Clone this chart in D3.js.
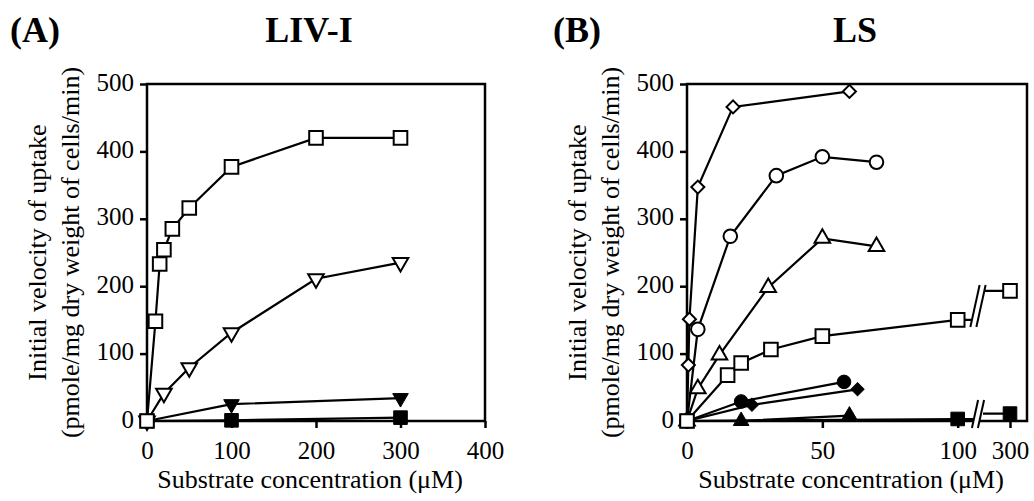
<!DOCTYPE html>
<html>
<head>
<meta charset="utf-8">
<title>Initial velocity of uptake: LIV-I and LS</title>
<script src="https://d3js.org/d3.v7.min.js"></script>
<style>
body { margin: 0; background: #fff; font-family: "Liberation Serif", "Times New Roman", serif; }
.axis line { stroke: #000; stroke-width: 2.5px; }
.axis text { font-family: "Liberation Serif", serif; font-size: 25px; fill: #000; }
.title { font-family: "Liberation Serif", serif; font-size: 36px; font-weight: bold; }
.label { font-family: "Liberation Serif", serif; font-size: 26px; }
.xlabel { font-family: "Liberation Serif", serif; font-size: 26px; }
</style>
</head>
<body>
<div id="chart"></div>
<script>
// ---- panel A : LIV-I ----
const livOpenSquareX = [0, 10, 15, 20, 30, 50, 100, 200, 300];
const livOpenSquareY = [0, 148, 233, 254, 285, 316, 377, 420, 420];
const livOpenTriDownX = [0, 20, 50, 100, 200, 300];
const livOpenTriDownY = [0, 41, 79, 131, 211, 235];
const livFilledTriDownX = [0, 100, 300];
const livFilledTriDownY = [0, 25, 34];
const livFilledSquareX = [0, 100, 300];
const livFilledSquareY = [0, 1, 5];
const livXTicks = [0, 100, 200, 300, 400];

// ---- panel B : LS ----
const lsOpenDiamondX = [0, 0.5, 0.9, 4, 17, 60];
const lsOpenDiamondY = [0, 83, 151, 347, 466, 489];
const lsOpenCircleX = [0, 4, 16, 33, 50, 70];
const lsOpenCircleY = [0, 136, 274, 364, 392, 384];
const lsOpenTriUpX = [0, 4, 12, 30, 50, 70];
const lsOpenTriUpY = [0, 48, 98, 198, 271, 259];
const lsOpenSquareX = [0, 15, 20, 31, 50, 100, 300];
const lsOpenSquareY = [0, 68, 86, 106, 126, 150, 193];
const lsFilledCircleX = [0, 20, 58];
const lsFilledCircleY = [0, 29, 58];
const lsFilledDiamondX = [0, 24, 63];
const lsFilledDiamondY = [0, 24, 47];
const lsFilledTriUpX = [0, 20, 60];
const lsFilledTriUpY = [0, 0, 8];
const lsFilledSquareX = [0, 100, 300];
const lsFilledSquareY = [0, 3, 11];
const lsXTicks = [0, 50, 100, 300];

const yTicks = [0, 100, 200, 300, 400, 500];

const plotTop = 84, plotBottom = 421;

const svg = d3.select("#chart").append("svg")
  .attr("width", 1034)
  .attr("height", 501);

const y = d3.scaleLinear().domain([0, 500]).range([plotBottom, plotTop]);

// marker shapes
const sq = d3.symbol().type(d3.symbolSquare).size(185);
const triUp = d3.symbol().type(d3.symbolTriangle).size(105);
const circ = d3.symbol().type(d3.symbolCircle).size(145);
const diam = d3.symbol().type(d3.symbolSquare).size(85);

function pts(xs, ys) {
  return xs.map((v, i) => ({x: v, y: ys[i]}));
}

// pixel points; a segment that crosses the axis break is cut in two
function pathPoints(data, x, brk) {
  const out = [];
  data.forEach((d, i) => {
    const p = [x(d.x), y(d.y)];
    if (brk && i > 0) {
      const prev = data[i - 1];
      const px = x(prev.x);
      if (px < brk.at && p[0] > brk.at) {
        out.push([brk.at - 3, y(prev.y)]);
        out.push(null);
        out.push([brk.at + 5, p[1]]);
      }
    }
    out.push(p);
  });
  return out;
}

const line = d3.line().defined(d => d !== null);

function drawPanel(opt) {
  const g = svg.append("g");
  const x = opt.x;

  g.append("rect")
    .attr("x", opt.left).attr("y", plotTop)
    .attr("width", opt.right - opt.left)
    .attr("height", plotBottom - plotTop)
    .attr("fill", "none").attr("stroke", "#000").attr("stroke-width", 2.5);

  g.append("g").attr("class", "axis")
    .attr("transform", `translate(${opt.left},0)`)
    .call(d3.axisLeft(y).tickValues(yTicks).tickSize(7).tickSizeOuter(0).tickPadding(6))
    .call(a => a.select(".domain").remove())
    .selectAll("text").attr("y", -2);

  g.append("g").attr("class", "axis")
    .attr("transform", `translate(0,${plotBottom})`)
    .call(d3.axisBottom(x).tickValues(opt.xTicks).tickSize(7).tickSizeOuter(0).tickPadding(13))
    .call(a => a.select(".domain").remove());

  // lines
  opt.series.forEach(s => {
    g.append("path")
      .attr("d", line(pathPoints(s.data, x, opt.brk)))
      .attr("fill", "none").attr("stroke", "#000").attr("stroke-width", 2.2);
  });

  // markers
  opt.series.forEach(s => {
    g.selectAll(null)
      .data(s.data)
      .enter()
      .append("path")
      .attr("d", s.sym)
      .attr("transform", d => `translate(${x(d.x)},${y(d.y)}) rotate(${s.rot || 0})`)
      .attr("fill", s.filled ? "#000" : "#fff")
      .attr("stroke", "#000")
      .attr("stroke-width", s.filled ? 1 : 2);
  });

  // axis break marks
  if (opt.brk) {
    opt.brk.marks.forEach(m => {
      const h = m.half, sl = h * 0.22, a = opt.brk.at;
      const xl = a - 3, xr = a + 3;
      g.append("polygon")
        .attr("points", [[xl - sl, m.cy + h], [xl + sl, m.cy - h], [xr + sl, m.cy - h], [xr - sl, m.cy + h]].join(" "))
        .attr("fill", "#fff");
      [xl, xr].forEach(c => {
        g.append("line")
          .attr("x1", c - sl).attr("y1", m.cy + h)
          .attr("x2", c + sl).attr("y2", m.cy - h)
          .attr("stroke", "#000").attr("stroke-width", 2);
      });
    });
  }

  // titles and axis labels
  svg.append("text").attr("class", "title")
    .attr("x", opt.tagX).attr("y", 42).text(opt.tag);
  svg.append("text").attr("class", "title")
    .attr("x", opt.titleX).attr("y", 42).attr("text-anchor", "middle").text(opt.title);

  const midY = (plotTop + plotBottom) / 2;
  svg.append("text").attr("class", "label")
    .attr("transform", `translate(${opt.left - 101},${midY}) rotate(-90)`)
    .attr("text-anchor", "middle").text("Initial velocity of uptake");
  svg.append("text").attr("class", "label")
    .attr("transform", `translate(${opt.left - 68},${midY}) rotate(-90)`)
    .attr("text-anchor", "middle").text("(pmole/mg dry weight of cells/min)");
  svg.append("text").attr("class", "xlabel")
    .attr("x", (opt.left + opt.right) / 2 - 6).attr("y", 488)
    .attr("text-anchor", "middle").text("Substrate concentration (\u03BCM)");
}

drawPanel({
  left: 147, right: 485,
  x: d3.scaleLinear().domain([0, 400]).range([147, 485]),
  xTicks: livXTicks,
  tag: "(A)", tagX: 10, title: "LIV-I", titleX: 309,
  series: [
    {data: pts(livFilledSquareX, livFilledSquareY), sym: sq(), filled: true},
    {data: pts(livFilledTriDownX, livFilledTriDownY), sym: triUp(), rot: 180, filled: true},
    {data: pts(livOpenTriDownX, livOpenTriDownY), sym: triUp(), rot: 180},
    {data: pts(livOpenSquareX, livOpenSquareY), sym: sq()}
  ]
});

drawPanel({
  left: 687, right: 1027,
  x: d3.scaleLinear().domain([0, 100, 300]).range([687, 957.7, 1010]),
  xTicks: lsXTicks,
  brk: {at: 978, marks: [{cy: 306, half: 21}, {cy: 414, half: 14}]},
  tag: "(B)", tagX: 553, title: "LS", titleX: 855,
  series: [
    {data: pts(lsFilledSquareX, lsFilledSquareY), sym: sq(), filled: true},
    {data: pts(lsFilledTriUpX, lsFilledTriUpY), sym: triUp(), filled: true},
    {data: pts(lsFilledDiamondX, lsFilledDiamondY), sym: diam(), rot: 45, filled: true},
    {data: pts(lsFilledCircleX, lsFilledCircleY), sym: circ(), filled: true},
    {data: pts(lsOpenDiamondX, lsOpenDiamondY), sym: diam(), rot: 45},
    {data: pts(lsOpenCircleX, lsOpenCircleY), sym: circ()},
    {data: pts(lsOpenTriUpX, lsOpenTriUpY), sym: triUp()},
    {data: pts(lsOpenSquareX, lsOpenSquareY), sym: sq()}
  ]
});
</script>
</body>
</html>
